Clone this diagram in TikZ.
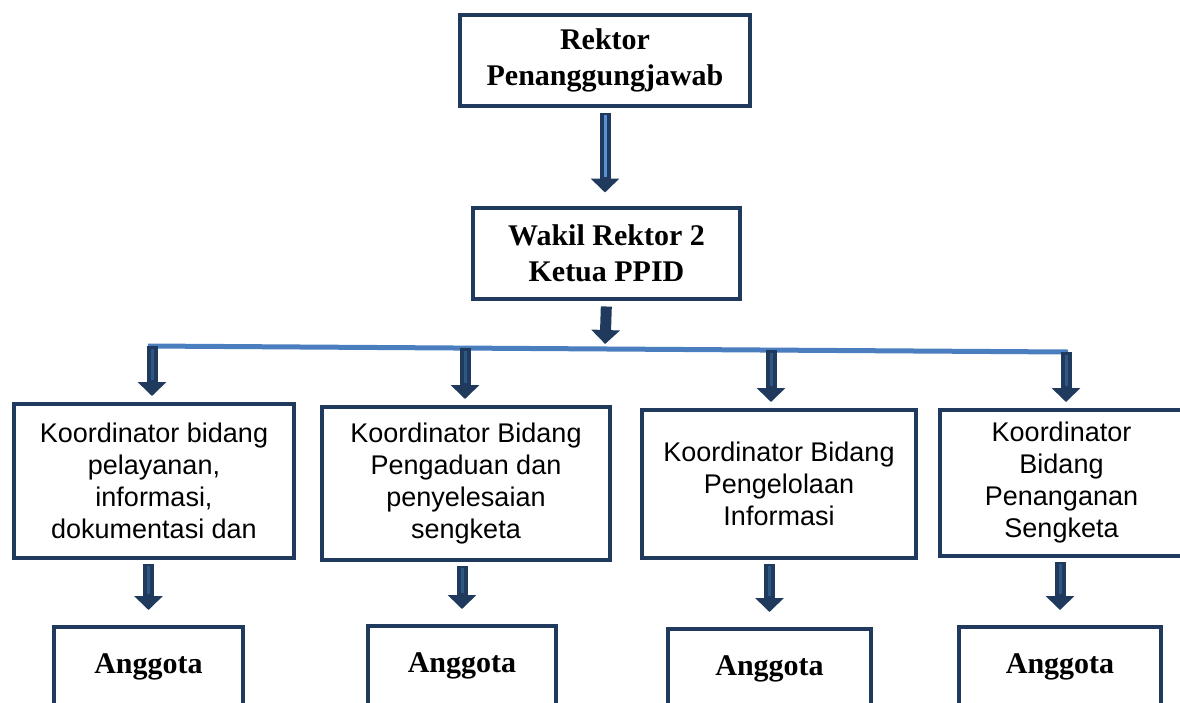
\documentclass[tikz,border=0pt]{standalone}
\usepackage{fontspec}
\setmainfont{Liberation Serif}
\setsansfont{Liberation Sans}
\usetikzlibrary{arrows.meta}
\definecolor{navy}{HTML}{1F3A5C}
\definecolor{stripe}{HTML}{2F5784}
\definecolor{lightstripe}{HTML}{5B8FD6}
\definecolor{linkblue}{HTML}{4A7EBF}
\begin{document}
\begin{tikzpicture}
  [x=1pt,y=-1pt,
   box/.style={rectangle,draw=navy,line width=4pt,fill=white},
   head/.style={box,font=\fontsize{30}{36}\selectfont\bfseries,align=center},
   unit/.style={box,font=\sffamily\fontsize{27}{32}\selectfont,align=center},
   flow/.style={draw=navy,line width=11pt,-{Triangle[length=14pt,width=28pt]}},
   core/.style={draw=stripe,line width=3pt}]
\clip (0,0) rectangle (1180,702); % adjust bounding box
\node at (605,60)     (rektor) [head, minimum width=290pt, minimum height=91pt] {Rektor\\Penanggungjawab};
\node at (606.5,253)  (wakil) [head, minimum width=267pt, minimum height=91pt] {Wakil Rektor 2\\Ketua PPID};
\node at (154,481)    (k1) [unit, minimum width=280pt, minimum height=154pt] {Koordinator bidang\\pelayanan,\\informasi,\\dokumentasi dan};
\node at (466,483.5)  (k2) [unit, minimum width=288pt, minimum height=153pt] {Koordinator Bidang\\Pengaduan dan\\penyelesaian\\sengketa};
\node at (779,484)    (k3) [unit, minimum width=274pt, minimum height=148pt] {Koordinator Bidang\\Pengelolaan\\Informasi};
\node at (1061.5,483) (k4) [unit, minimum width=243pt, minimum height=146pt] {Koordinator\\Bidang\\Penanganan\\Sengketa};
\node at (148.5,667)  (a1) [head, minimum width=189pt, minimum height=80pt] {Anggota};
\node at (462,666)    (a2) [head, minimum width=188pt, minimum height=80pt] {Anggota};
\node at (769.5,669)  (a3) [head, minimum width=203pt, minimum height=80pt] {Anggota};
\node at (1060,667)   (a4) [head, minimum width=202pt, minimum height=80pt] {Anggota};
%
\coordinate (bl) at (148,346);
\coordinate (br) at (1068,352);
\coordinate (jc) at (605,348);
\coordinate (j1) at (152,346);
\coordinate (j2) at (465,348);
\coordinate (j3) at (771,350);
\coordinate (j4) at (1066,352);
\draw [linkblue, line width=5pt] (bl) -- (br);
%
\draw [flow, shorten <=5pt, shorten >=13pt] (rektor.south) -- (rektor.south |- wakil.north);
\draw [core, draw=lightstripe, shorten <=7pt, shorten >=29pt] (rektor.south) -- (rektor.south |- wakil.north);
\draw [flow, shorten <=6pt, shorten >=4pt] (wakil.south) -- (jc);
\foreach \j/\k in {j1/k1,j2/k2,j3/k3,j4/k4} {
  \draw [flow, shorten >=6pt] (\j) -- (\j |- \k.north);
  \draw [core, shorten <=3pt, shorten >=22pt] (\j) -- (\j |- \k.north);
}
\foreach \k/\a in {k1/a1,k2/a2,k3/a3,k4/a4} {
  \draw [flow, shorten <=4pt, shorten >=15pt] (\a.north |- \k.south) -- (\a.north);
  \draw [core, shorten <=6pt, shorten >=31pt] (\a.north |- \k.south) -- (\a.north);
}
\end{tikzpicture}
\end{document}
